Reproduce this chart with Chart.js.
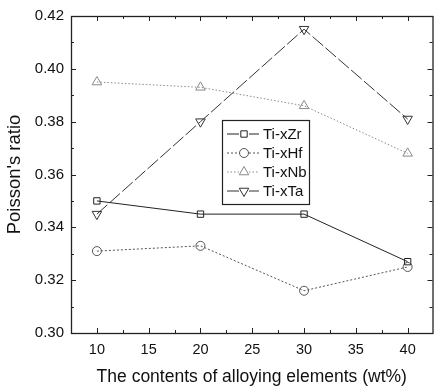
<!DOCTYPE html>
<html>
<head>
<meta charset="utf-8">
<script src="https://cdn.jsdelivr.net/npm/chart.js@4"></script>
<style>
  html, body { margin: 0; padding: 0; background: #fff; }
  #wrap { width: 439px; height: 388px; }
</style>
</head>
<body>
<div id="wrap"><canvas id="chart" width="439" height="388"></canvas></div>
<script>
// data
const contents = [10, 20, 30, 40];
const zr = [0.350, 0.345, 0.345, 0.327];
const hf = [0.331, 0.333, 0.316, 0.325];
const nb = [0.395, 0.393, 0.386, 0.368];
const ta = [0.345, 0.380, 0.415, 0.381];
const seriesNames = ["Ti-xZr", "Ti-xHf", "Ti-xNb", "Ti-xTa"];
const xTicks = [10, 15, 20, 25, 30, 35, 40];
const yTicks = [0.30, 0.32, 0.34, 0.36, 0.38, 0.40, 0.42];

const FONT = "'Liberation Sans', Arial, sans-serif";
const pts = (ys) => contents.map((x, i) => ({ x, y: ys[i] }));

function ds(label, ys, color, dash, style, rot, legendDash) {
  return {
    label,
    data: pts(ys),
    borderColor: color,
    backgroundColor: "rgba(255,255,255,0)",
    borderWidth: 1,
    borderDash: dash,
    legendDash,
    pointStyle: style,
    pointRotation: rot || 0,
    pointRadius: style === "triangle" ? 5.5 : 4.5,
    pointBorderColor: color,
    pointBorderWidth: 1,
    pointBackgroundColor: "rgba(255,255,255,0)",
    tension: 0
  };
}

// inward ticks + box frame, like the original plot
const frame = {
  id: "frame",
  afterDatasetsDraw(chart) {
    const { ctx, chartArea: a, scales: { x, y } } = chart;
    ctx.save();
    ctx.strokeStyle = "#222";
    ctx.lineWidth = 1.3;
    ctx.strokeRect(a.left + 0.5, a.top + 0.5, a.right - a.left, a.bottom - a.top);
    ctx.lineWidth = 1;
    ctx.beginPath();
    for (let v = 7.5; v <= 42.5; v += 2.5) {
      const px = Math.round(x.getPixelForValue(v)) + 0.5;
      if (px <= a.left + 1 || px >= a.right - 1) continue;
      const len = v % 5 === 0 ? 5 : 3;
      ctx.moveTo(px, a.bottom); ctx.lineTo(px, a.bottom - len);
      ctx.moveTo(px, a.top); ctx.lineTo(px, a.top + len);
    }
    for (let k = 30; k <= 42; k++) {
      const py = Math.round(y.getPixelForValue(k / 100)) + 0.5;
      if (py <= a.top + 1 || py >= a.bottom - 1) continue;
      const len = k % 2 === 0 ? 5 : 3;
      ctx.moveTo(a.left, py); ctx.lineTo(a.left + len, py);
      ctx.moveTo(a.right, py); ctx.lineTo(a.right - len, py);
    }
    ctx.stroke();
    ctx.restore();
  }
};

// legend box inside the plot
const boxLegend = {
  id: "boxLegend",
  afterDraw(chart) {
    const { ctx } = chart;
    const bx = 222, by = 120, bw = 87, bh = 84;
    const rows = [134, 153, 172, 191];
    ctx.save();
    ctx.fillStyle = "#fff";
    ctx.fillRect(bx, by, bw, bh);
    ctx.strokeStyle = "#222";
    ctx.lineWidth = 1.2;
    ctx.strokeRect(bx + 0.5, by + 0.5, bw, bh);
    chart.data.datasets.forEach((d, i) => {
      const ry = rows[i];
      ctx.strokeStyle = d.borderColor;
      ctx.lineWidth = 1;
      ctx.setLineDash(d.legendDash);
      ctx.beginPath();
      ctx.moveTo(bx + 5, ry); ctx.lineTo(bx + 17, ry);
      ctx.moveTo(bx + 27, ry); ctx.lineTo(bx + 37, ry);
      ctx.stroke();
      ctx.setLineDash([]);
      ctx.fillStyle = "rgba(255,255,255,0)";
      Chart.helpers.drawPoint(ctx, {
        pointStyle: d.pointStyle,
        rotation: d.pointRotation,
        radius: d.pointRadius,
        borderWidth: 1
      }, bx + 22, ry);
      ctx.fillStyle = "#111";
      ctx.font = "15px " + FONT;
      ctx.textBaseline = "middle";
      ctx.fillText(d.label, bx + 41, ry + 1);
    });
    ctx.restore();
  }
};

new Chart(document.getElementById("chart"), {
  type: "line",
  data: {
    datasets: [
      ds(seriesNames[0], zr, "#222", [], "rect", 0, []),
      ds(seriesNames[1], hf, "#555", [2, 2], "circle", 0, [2, 2]),
      ds(seriesNames[2], nb, "#8a8a8a", [1.5, 2], "triangle", 0, [1.5, 2]),
      ds(seriesNames[3], ta, "#333", [14, 3], "triangle", 180, [])
    ]
  },
  options: {
    responsive: false,
    animation: false,
    devicePixelRatio: 1,
    layout: { padding: { left: 0, right: 0, top: 14, bottom: 0 } },
    plugins: { legend: { display: false }, tooltip: { enabled: false } },
    scales: {
      x: {
        type: "linear",
        min: 7.5,
        max: 42.4,
        afterBuildTicks: (s) => { s.ticks = xTicks.map(v => ({ value: v })); },
        afterFit: (s) => { s.height = 55; },
        grid: { display: false, drawTicks: false },
        border: { display: false },
        ticks: {
          padding: 8,
          color: "#111",
          font: { family: FONT, size: 14.5 }
        },
        title: {
          display: true,
          text: "The contents of alloying elements (wt%)",
          color: "#111",
          font: { family: FONT, size: 17.5 },
          padding: { top: 7, bottom: 0 }
        }
      },
      y: {
        min: 0.30,
        max: 0.42,
        afterBuildTicks: (s) => { s.ticks = yTicks.map(v => ({ value: v })); },
        afterFit: (s) => { s.width = 71; },
        grid: { display: false, drawTicks: false },
        border: { display: false },
        ticks: {
          padding: 7,
          color: "#111",
          font: { family: FONT, size: 15 },
          callback: (v) => Number(v).toFixed(2)
        },
        title: {
          display: true,
          text: "Poisson's ratio",
          color: "#111",
          font: { family: FONT, size: 18.5 },
          padding: { top: 4, bottom: 4 }
        }
      }
    }
  },
  plugins: [frame, boxLegend]
});
</script>
</body>
</html>
